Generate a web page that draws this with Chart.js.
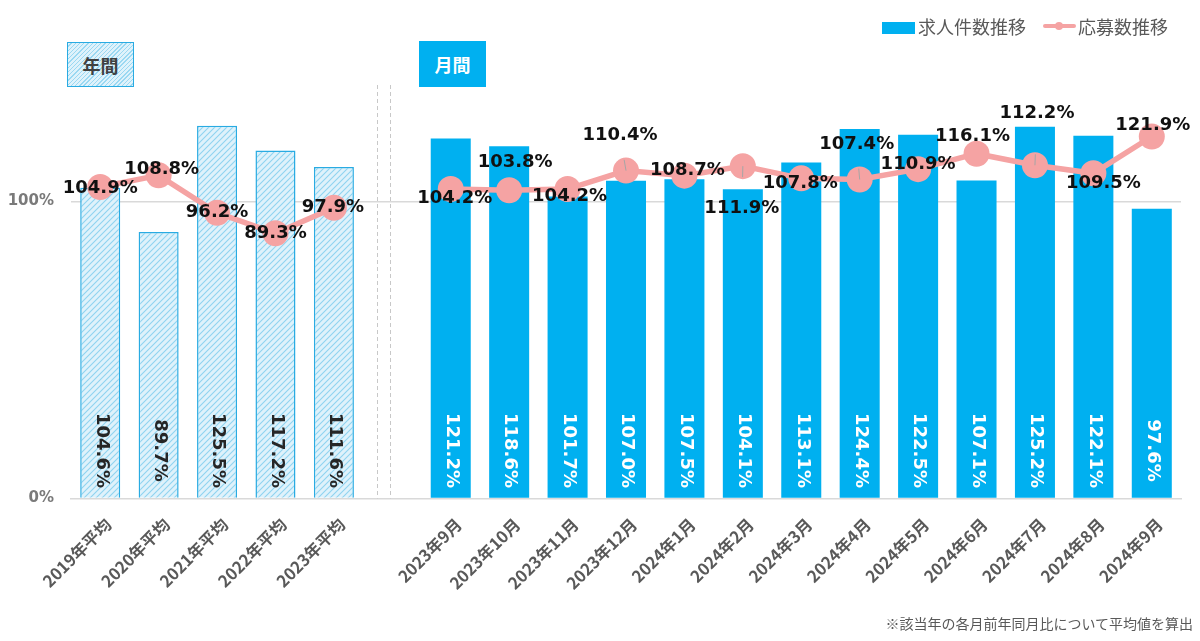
<!DOCTYPE html>
<html lang="ja">
<head>
<meta charset="utf-8">
<script src="https://cdn.jsdelivr.net/npm/chart.js@4/dist/chart.umd.min.js"></script>
<style>
  html, body { margin: 0; padding: 0; background: #ffffff; }
  #wrap { position: relative; width: 1200px; height: 641px; overflow: hidden; }
  #wrap canvas { position: absolute; left: 0; top: 0; }
  .ov { position: absolute; white-space: nowrap; font-family: "Noto Sans CJK JP", "Noto Sans", sans-serif; }
  .legtxt { font-size: 18px; line-height: 20px; color: #595959; top: 16px; }
  .box { display: flex; align-items: center; justify-content: center; font-size: 18px; font-weight: 700; box-sizing: border-box; }
</style>
</head>
<body>
<div id="wrap">
  <canvas id="c" width="1200" height="641"></canvas>
  <div class="ov box" style="left:67px; top:42px; width:67px; height:45px; border:1.5px solid #29abe2; color:#404040; background: repeating-linear-gradient(135deg, #dff2fb 0px, #dff2fb 2px, #9ad8f2 2px, #9ad8f2 3px);">年間</div>
  <div class="ov box" style="left:419px; top:41px; width:67px; height:46px; background:#00b0f0; color:#ffffff;">月間</div>
  <div class="ov" style="left:882px; top:22px; width:33px; height:12px; background:#00b0f0;"></div>
  <div class="ov legtxt" style="left:918px;">求人件数推移</div>
  <div class="ov" style="left:1043px; top:24px; width:33px; height:4px; background:#f5a3a3; border-radius:2px;"></div>
  <div class="ov" style="left:1055px; top:22px; width:8px; height:8px; background:#f5a3a3; border-radius:50%;"></div>
  <div class="ov legtxt" style="left:1078px;">応募数推移</div>
  <div class="ov" style="right:7px; top:613px; font-size:14px; line-height:20px; color:#595959;">※該当年の各月前年同月比について平均値を算出</div>
</div>
<script>
// ---- data ----
const categories = ['2019年平均','2020年平均','2021年平均','2022年平均','2023年平均','',
  '2023年9月','2023年10月','2023年11月','2023年12月','2024年1月','2024年2月','2024年3月',
  '2024年4月','2024年5月','2024年6月','2024年7月','2024年8月','2024年9月'];
const jobValues = [104.6, 89.7, 125.5, 117.2, 111.6, null,
  121.2, 118.6, 101.7, 107.0, 107.5, 104.1, 113.1, 124.4, 122.5, 107.1, 125.2, 122.1, 97.6];
const applicantValues = [104.9, 108.8, 96.2, 89.3, 97.9, null,
  104.2, 103.8, 104.2, 110.4, 108.7, 111.9, 107.8, 107.4, 110.9, 116.1, 112.2, 109.5, 121.9];
const yTickValues = [0, 100];
const annualCount = 5;

// ---- styling (label placement offsets in px, leader lines) ----
const labelOffsets = [[0,1],[3,-6],[0,0],[0,0],[-1,0],null,
  [4,9],[6,-28],[2,7],[-6,-35],[3,-5],[-1,42],[-1,5],[-3,-35],[0,-5],[-4,-17],[2,-52],[10,10],[1,-11]];
const leaderIdx = [9, 11, 13, 16];

const BLUE = '#00b0f0', PINK = '#f5a3a3', HATCH_BORDER = '#29abe2';

function makeHatch() {
  const s = 6;
  const c = document.createElement('canvas');
  c.width = s; c.height = s;
  const x = c.getContext('2d');
  x.fillStyle = '#dff2fb'; x.fillRect(0, 0, s, s);
  x.strokeStyle = '#8fd3f0'; x.lineWidth = 1.1;
  x.beginPath();
  x.moveTo(0, s); x.lineTo(s, 0);
  x.moveTo(-s/2, s/2); x.lineTo(s/2, -s/2);
  x.moveTo(s/2, s*1.5); x.lineTo(s*1.5, s/2);
  x.stroke();
  return x.createPattern(c, 'repeat');
}
const ctx = document.getElementById('c').getContext('2d');
const hatch = makeHatch();

const barBg = jobValues.map((v, i) => i < annualCount ? hatch : BLUE);
const barBorder = jobValues.map((v, i) => i < annualCount ? HATCH_BORDER : BLUE);
const barBorderW = jobValues.map((v, i) => i < annualCount ? 1.5 : 0);

const decorPlugin = {
  id: 'decor',
  beforeDatasetsDraw(chart) {
    const c = chart.ctx, xs = chart.scales.x, area = chart.chartArea;
    const gx = xs.getPixelForValue(annualCount);
    c.save();
    c.strokeStyle = '#c8c8c8'; c.lineWidth = 1; c.setLineDash([4, 3]);
    [gx - 15, gx - 2].forEach(px => {
      c.beginPath(); c.moveTo(Math.round(px) + 0.5, 85); c.lineTo(Math.round(px) + 0.5, area.bottom); c.stroke();
    });
    c.restore();
  },
  afterDatasetsDraw(chart) {
    const c = chart.ctx, area = chart.chartArea, xs = chart.scales.x;
    const barMeta = chart.getDatasetMeta(0);
    const lineMeta = chart.getDatasetMeta(1);
    c.save();
    // category labels (rotated -45deg)
    c.font = 'bold 16.5px "Noto Sans CJK JP", "Noto Sans", sans-serif';
    c.fillStyle = '#595959';
    c.textAlign = 'right'; c.textBaseline = 'middle';
    categories.forEach((lab, i) => {
      if (!lab) return;
      c.save();
      c.translate(xs.getPixelForValue(i) + 8, area.bottom + 23);
      c.rotate(-Math.PI / 4);
      c.fillText(lab, 0, 0);
      c.restore();
    });
    // bar value labels (rotated)
    c.font = 'bold 18px "DejaVu Sans"';
    c.textAlign = 'center'; c.textBaseline = 'middle';
    barMeta.data.forEach((el, i) => {
      if (jobValues[i] == null) return;
      c.save();
      c.translate(el.x + 1, area.bottom - 48);
      c.rotate(Math.PI / 2);
      c.fillStyle = i < annualCount ? '#262626' : '#ffffff';
      c.fillText(jobValues[i].toFixed(1) + '%', 0, 0);
      c.restore();
    });
    // leader lines
    c.strokeStyle = '#a6a6a6'; c.lineWidth = 1;
    leaderIdx.forEach(i => {
      const el = lineMeta.data[i], o = labelOffsets[i];
      const len = Math.hypot(o[0], o[1]);
      c.beginPath();
      c.moveTo(el.x + o[0] / len * 11, el.y + o[1] / len * 11);
      c.lineTo(el.x, el.y);
      c.stroke();
    });
    // line value labels
    c.font = 'bold 18px "DejaVu Sans"';
    c.fillStyle = '#111111';
    lineMeta.data.forEach((el, i) => {
      if (applicantValues[i] == null) return;
      const o = labelOffsets[i];
      c.fillText(applicantValues[i].toFixed(1) + '%', el.x + o[0], el.y + o[1]);
    });
    c.restore();
  }
};

new Chart(ctx, {
  type: 'bar',
  data: {
    labels: categories,
    datasets: [
      {
        type: 'bar', label: '求人件数推移', data: jobValues, order: 2,
        backgroundColor: barBg, borderColor: barBorder, borderWidth: barBorderW,
        barPercentage: 0.685, categoryPercentage: 1.0
      },
      {
        type: 'line', label: '応募数推移', data: applicantValues, order: 1,
        borderColor: PINK, backgroundColor: PINK, borderWidth: 5.5,
        pointRadius: 13, pointHoverRadius: 13, pointBackgroundColor: PINK, pointBorderWidth: 0,
        spanGaps: false, tension: 0
      }
    ]
  },
  options: {
    responsive: false,
    animation: false,
    layout: { padding: { left: 0, right: 19, top: 53, bottom: 0 } },
    plugins: { legend: { display: false }, tooltip: { enabled: false } },
    scales: {
      x: {
        grid: { display: false },
        border: { display: true, color: '#d9d9d9', width: 1.5 },
        ticks: { display: false, autoSkip: false },
        afterFit(scale) { scale.height = 142.5; }
      },
      y: {
        min: 0, max: 150,
        border: { display: false },
        grid: {
          drawTicks: false, lineWidth: 1.5,
          color: (cx) => (cx.tick && cx.tick.value === 100) ? '#d9d9d9' : 'rgba(0,0,0,0)'
        },
        ticks: {
          padding: 17, color: '#7a7a7a',
          font: { family: '"DejaVu Sans", sans-serif', size: 15, weight: 'bold' },
          callback: (v) => v + '%'
        },
        afterBuildTicks(scale) { scale.ticks = yTickValues.map(v => ({ value: v })); },
        afterFit(scale) { scale.width = 71; }
      }
    }
  },
  plugins: [decorPlugin]
});
</script>
</body>
</html>
